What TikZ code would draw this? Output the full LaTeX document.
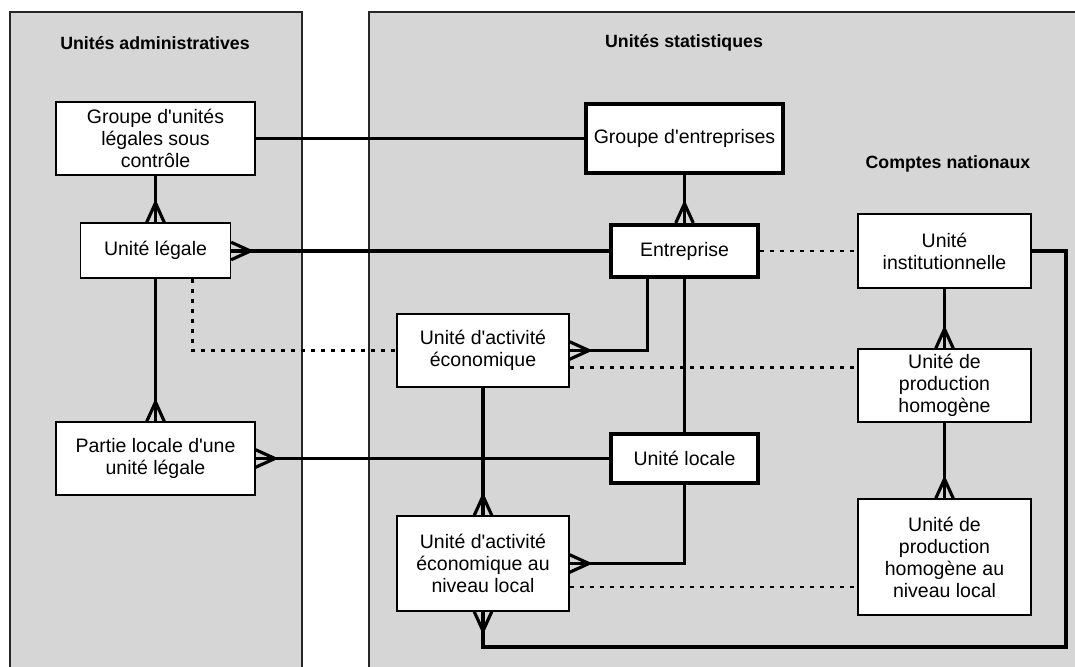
\documentclass[tikz,border=0pt]{standalone}
\usepackage{fontspec}
\setmainfont{Liberation Sans}[Ligatures=TeXOff]
\usepackage{tikz}
\usetikzlibrary{arrows.meta,positioning,calc}

\definecolor{panelgrey}{RGB}{214,214,214}

% crow's foot tip (the line runs on to the box)
\pgfdeclarearrow{
  name = crow,
  parameters = {\the\pgfarrowlength,\the\pgfarrowwidth},
  setup code = {
    \pgfarrowssettipend{0pt}
    \pgfarrowssetlineend{0pt}
    \pgfarrowssetbackend{-\pgfarrowlength}
    \pgfarrowssetvisualbackend{-\pgfarrowlength}
    \pgfarrowshullpoint{0pt}{.5\pgfarrowwidth}
    \pgfarrowshullpoint{0pt}{-.5\pgfarrowwidth}
    \pgfarrowshullpoint{-\pgfarrowlength}{0pt}
    \pgfarrowssavethe\pgfarrowlength
    \pgfarrowssavethe\pgfarrowwidth
  },
  drawing code = {
    \pgfpathmoveto{\pgfqpoint{0pt}{.5\pgfarrowwidth}}
    \pgfpathlineto{\pgfqpoint{-\pgfarrowlength}{0pt}}
    \pgfpathlineto{\pgfqpoint{0pt}{-.5\pgfarrowwidth}}
    \pgfusepathqstroke
  },
  defaults = {length=11pt, width=10pt}
}

\begin{document}
\begin{tikzpicture}[x=0.02cm,y=-0.02cm,
  unit/.style={draw, fill=white, line width=0.7pt, align=center, inner sep=2pt,
    font=\fontsize{11.1}{12.5}\selectfont},
  keyunit/.style={unit, line width=2.3pt},
  paneltitle/.style={font=\bfseries\fontsize{10.1}{12}\selectfont},
  link/.style={line width=1.8pt},
  weaklink/.style={line width=1.4pt, dash pattern=on 2.3pt off 3.4pt},
  many/.style={-{crow}}]
\useasboundingbox (0,0) rectangle (1075,666);
\clip (0,0) rectangle (1075,666);

% Panels
\filldraw[fill=panelgrey, draw=black!85, line width=0.6pt] (10,12) rectangle (302,690);
\filldraw[fill=panelgrey, draw=black!85, line width=0.6pt] (369,12) rectangle (1095,690);
\node[paneltitle] (admtitle) at (155,43) {Unités administratives};
\node[paneltitle] (stattitle) at (684,43) {Unités statistiques};
\node[paneltitle] (cntitle) at (948,164) {Comptes nationaux};

% Administrative units
\node[unit, minimum width=3.98cm, minimum height=1.46cm] (grpul) at (155.5,138.5) {Groupe d'unités\\légales sous\\contrôle};
\node[unit, minimum width=3.0cm, minimum height=1.1cm] (ul) at (155.5,250.5) {Unité légale};
\node[unit, minimum width=3.98cm, minimum height=1.46cm] (plul) at (155.5,458.5) {Partie locale d'une\\unité légale};

% Statistical units
\node[keyunit, minimum width=3.94cm, minimum height=1.38cm] (grpent) at (684.5,138.5) {Groupe d'entreprises};
\node[keyunit, minimum width=2.94cm, minimum height=1.04cm] (ent) at (684.5,251) {Entreprise};
\node[unit, minimum width=3.44cm, minimum height=1.46cm] (uae) at (483,350.5) {Unité d'activité\\économique};
\node[keyunit, minimum width=2.94cm, minimum height=0.98cm] (uloc) at (684.5,458.5) {Unité locale};
\node[unit, minimum width=3.44cm, minimum height=1.9cm] (uael) at (483,563.5) {Unité d'activité\\économique au\\niveau local};

% National accounts
\node[unit, minimum width=3.46cm, minimum height=1.48cm] (ui) at (944.5,251) {Unité\\institutionnelle};
\node[unit, minimum width=3.46cm, minimum height=1.46cm] (uph) at (944.5,385.5) {Unité de\\production\\homogène};
\node[unit, minimum width=3.46cm, minimum height=2.32cm] (uphl) at (944.5,557) {Unité de\\production\\homogène au\\niveau local};
\coordinate (loopcorner) at (1066,647);

% Links
\draw[link] (grpul.east) -- (grpent.west);
\draw[link, many] (grpul.south) -- (ul.north);
\draw[link, many] (grpent.south) -- (ent.north);
\draw[link, many] (ent.west) -- (ent.west -| ul.east);
\draw[link, many] (ul.south) -- (plul.north);
\draw[link, many] (uloc.west) -- (plul.east);
\draw[link, many] ([xshift=-0.74cm]ent.south) |- (uae.east);
\draw[link] (ent.south) -- (uloc.north);
\draw[link, many] (uae.south) -- (uael.north);
\draw[link, many] (uloc.south) |- (uael.east);
\draw[link, many] (ui.south) -- (uph.north);
\draw[link, many] (uph.south) -- (uphl.north);
\draw[link, many] (ui.east) -| (loopcorner) -| (uael.south);

% Correspondences
\draw[weaklink] ([xshift=0.74cm]ul.south) |- (uae.west);
\draw[weaklink] (ent.east) -- (ui.west);
\draw[weaklink] ([yshift=-0.34cm]uae.east) -- ([yshift=-0.34cm]uae.east -| uph.west);
\draw[weaklink] ([yshift=-0.47cm]uael.east) -- ([yshift=-0.47cm]uael.east -| uphl.west);

\end{tikzpicture}
\end{document}
